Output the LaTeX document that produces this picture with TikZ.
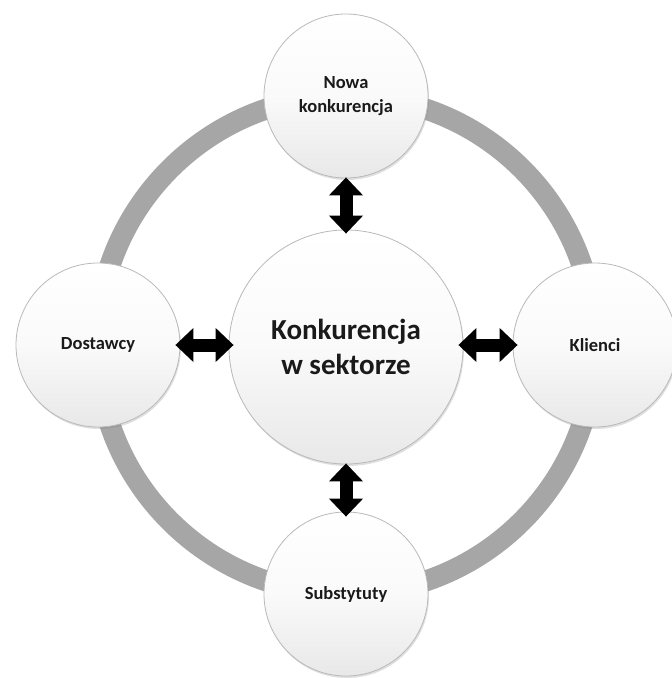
\documentclass[tikz,border=0pt]{standalone}
\usepackage{fontspec}
\setmainfont{Carlito}
\usetikzlibrary{arrows.meta,shadows}
\definecolor{ringgray}{HTML}{A6A6A6}
\definecolor{txt}{HTML}{1A1A1A}
\tikzset{
  ball/.style={circle, draw=gray!55, line width=0.8pt, inner sep=0pt,
    top color=white, bottom color=gray!18, middle color=white!96!gray,
    drop shadow={opacity=0.25, shadow xshift=1pt, shadow yshift=-2pt},
    text=txt, font=\bfseries, align=center},
  outerball/.style={ball, minimum size=164pt, font=\bfseries\fontsize{18.5}{24}\selectfont},
  coreball/.style={ball, minimum size=234pt, font=\bfseries\fontsize{29}{35}\selectfont},
  blockarrow/.style={line width=13pt, black,
    {Triangle[width=33pt,length=18pt]}-{Triangle[width=33pt,length=18pt]}}
}
\begin{document}
\begin{tikzpicture}[x=1pt,y=-1pt]
\useasboundingbox (0,0) rectangle (672,678);
\fill[white] (0,0) rectangle (672,678);
\coordinate (ringc) at (346,345);
\draw[ringgray, line width=21pt] (ringc) circle (249pt);
\node[coreball] (core) at (346,347) {Konkurencja\\w sektorze};
\node[outerball] (top) at (346,96) {Nowa\\konkurencja};
\node[outerball] (left) at (98,345) {Dostawcy};
\node[outerball] (right) at (595,345) {Klienci};
\node[outerball] (bottom) at (346,594) {Substytuty};
\draw[blockarrow, shorten <=-1pt, shorten >=-4pt] (top.south) -- (core.north);
\draw[blockarrow, shorten <=-5pt, shorten >=-5pt] (left.east) -- (core.west |- left.east);
\draw[blockarrow, shorten <=-5pt, shorten >=-5pt] (right.west) -- (core.east |- right.west);
\draw[blockarrow, shorten <=-5pt, shorten >=-1pt] (bottom.north) -- (core.south);
\end{tikzpicture}
\end{document}
